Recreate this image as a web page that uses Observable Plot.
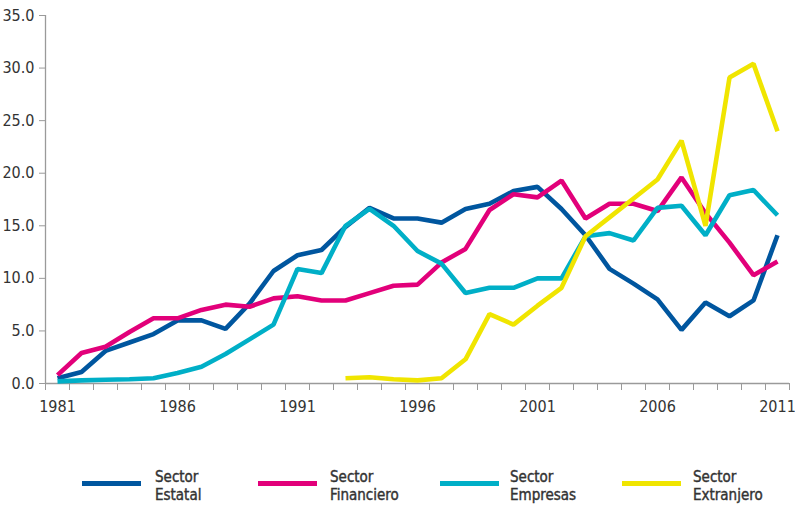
<!DOCTYPE html>
<html>
<head>
<meta charset="utf-8">
<script src="https://cdn.jsdelivr.net/npm/d3@7"></script>
<script src="https://cdn.jsdelivr.net/npm/@observablehq/plot@0.6"></script>
<style>
  html, body { margin: 0; padding: 0; background: #fff; }
  #wrap { width: 795px; position: relative; }
  #legend { position: relative; width: 795px; height: 80px; font-family: "Liberation Sans Narrow", "DejaVu Sans Condensed", sans-serif; font-weight: normal; font-size: 15px; color: #333; -webkit-text-stroke: 0.4px #333; }
  .sw { position: absolute; height: 5px; width: 59px; top: 56px; }
  .lb { position: absolute; top: 43px; line-height: 18px; }
</style>
</head>
<body>
<div id="wrap">
  <div id="chart"></div>
  <div id="legend"></div>
</div>
<script>
const years = d3.range(1981, 2012);
const estatal    = [0.5, 1.1, 3.1, 3.9, 4.7, 6.0, 6.0, 5.2, 7.6, 10.7, 12.2, 12.7, 14.9, 16.7, 15.7, 15.7, 15.3, 16.6, 17.1, 18.3, 18.7, 16.6, 14.1, 10.9, 9.5, 8.0, 5.1, 7.7, 6.4, 7.9, 14.1];
const financiero = [0.8, 2.9, 3.5, 4.9, 6.2, 6.2, 7.0, 7.5, 7.3, 8.1, 8.3, 7.9, 7.9, 8.6, 9.3, 9.4, 11.5, 12.8, 16.5, 18.0, 17.7, 19.3, 15.7, 17.1, 17.1, 16.4, 19.6, 16.2, 13.4, 10.3, 11.6];
const empresas   = [0.2, 0.3, 0.35, 0.4, 0.5, 1.0, 1.6, 2.8, 4.2, 5.6, 10.9, 10.5, 15.0, 16.6, 15.0, 12.6, 11.4, 8.6, 9.1, 9.1, 10.0, 10.0, 14.0, 14.3, 13.6, 16.7, 16.9, 14.1, 17.9, 18.4, 16.0];
const extranjero = [null, null, null, null, null, null, null, null, null, null, null, null, 0.5, 0.6, 0.4, 0.3, 0.5, 2.3, 6.6, 5.6, 7.4, 9.1, 14.0, 15.8, 17.6, 19.4, 23.1, 15.0, 29.1, 30.4, 24.0];

const seriesNames = ["Sector Estatal", "Sector Financiero", "Sector Empresas", "Sector Extranjero"];
const legendLines = [["Sector", "Estatal"], ["Sector", "Financiero"], ["Sector", "Empresas"], ["Sector", "Extranjero"]];
const colors = ["#00569f", "#e2007a", "#00afc7", "#f0e500"];
const yTicks = [0, 5, 10, 15, 20, 25, 30, 35];
const xLabelYears = [1981, 1986, 1991, 1996, 2001, 2006, 2011];

const seriesValues = [estatal, financiero, empresas, extranjero];
const data = [];
seriesNames.forEach((name, i) => {
  years.forEach((yr, j) => data.push({series: name, year: yr, value: seriesValues[i][j]}));
});
const halfTicks = years.map(y => y - 0.5).concat([years[years.length - 1] + 0.5]);

const font = '"Liberation Sans Narrow", "DejaVu Sans Condensed", sans-serif';
const axisColor = "#9a9a9a";

const plot = Plot.plot({
  width: 795,
  height: 425,
  marginTop: 15,
  marginBottom: 42,
  marginLeft: 45,
  marginRight: 6,
  style: {fontFamily: font, fontSize: "16px", color: "#333", background: "#fff"},
  x: {domain: [1980.5, 2011.5]},
  y: {domain: [0, 35]},
  color: {domain: seriesNames, range: colors},
  marks: [
    Plot.ruleY([0], {stroke: axisColor, strokeWidth: 1.3}),
    Plot.ruleX([1980.5], {stroke: axisColor, strokeWidth: 1.3}),
    Plot.axisY({ticks: yTicks, tickFormat: d => d.toFixed(1), tickSize: 6, tickPadding: 5, stroke: axisColor, fill: "#333", label: null}),
    Plot.axisX({ticks: halfTicks, tickFormat: () => "", tickSize: 7, stroke: axisColor, label: null}),
    Plot.axisX({ticks: xLabelYears, tickFormat: d => String(d), tickSize: 0, tickPadding: 17, fill: "#333", label: null}),
    Plot.line(data, {x: "year", y: "value", z: "series", stroke: "series", strokeWidth: 4.6, strokeLinejoin: "miter", strokeLinecap: "butt"})
  ]
});
document.getElementById("chart").appendChild(plot);

const legend = document.getElementById("legend");
const swLeft = [82, 258, 440, 622];
const lbLeft = [155, 330, 510, 693];
seriesNames.forEach((name, i) => {
  const sw = document.createElement("div");
  sw.className = "sw";
  sw.style.left = swLeft[i] + "px";
  sw.style.background = colors[i];
  legend.appendChild(sw);
  const lb = document.createElement("div");
  lb.className = "lb";
  lb.style.left = lbLeft[i] + "px";
  lb.innerHTML = legendLines[i].join("<br>");
  legend.appendChild(lb);
});
</script>
</body>
</html>
